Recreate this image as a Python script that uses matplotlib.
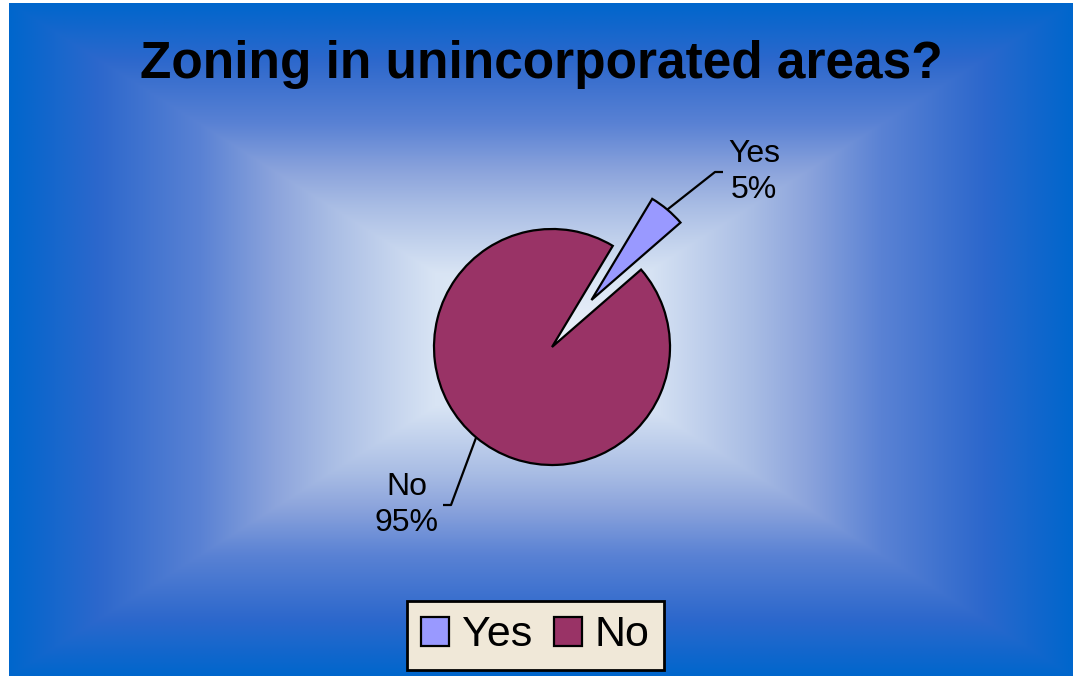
import numpy as np
import matplotlib
matplotlib.use("Agg")
import matplotlib.pyplot as plt

# ---- data ----
categories = ["Yes", "No"]
values = [5, 95]
colors = ["#9999ff", "#993366"]
title = "Zoning in unincorporated areas?"

W, H = 1073, 676
fig = plt.figure(figsize=(W / 100, H / 100), dpi=100, facecolor="white")
ax = fig.add_axes([0, 0, 1, 1])
ax.set_xlim(0, W)
ax.set_ylim(0, H)
ax.axis("off")

# ---- rectangular "from center" gradient background ----
bx0, bx1, by0, by1 = 9, W, 0, H - 3
cx, cy = (bx0 + bx1) / 2, (by0 + by1) / 2
nx, ny = 1000, 640
xs = np.linspace(bx0, bx1, nx)
ys = np.linspace(by1, by0, ny)
X, Y = np.meshgrid(xs, ys)
t = np.maximum(np.abs(X - cx) / ((bx1 - bx0) / 2), np.abs(Y - cy) / ((by1 - by0) / 2))
t = np.clip(t, 0, 1)
stops = np.array([0.0, 0.2, 0.4, 0.5, 0.64, 0.83, 1.0])
scol = np.array([(236, 241, 250), (216, 228, 244), (168, 188, 228), (140, 164, 220),
                 (90, 130, 212), (45, 104, 204), (0, 102, 204)]) / 255
img = np.stack([np.interp(t, stops, scol[:, k]) for k in range(3)], axis=-1)
ax.imshow(img, extent=(bx0, bx1, by0, by1), origin="upper", aspect="auto",
          zorder=0, interpolation="bilinear")

# ---- pie ----
pc = (552, H - 347)
R = 118
explode = [0.52, 0]
start = 59
wedges, _ = ax.pie(values, colors=colors, explode=[e * R for e in explode],
                   startangle=start, counterclock=False, center=pc, radius=R,
                   wedgeprops=dict(edgecolor="black", linewidth=1.6),
                   frame=True)
for w in wedges:
    w.set_zorder(3)
ax.set_xlim(0, W)
ax.set_ylim(0, H)
ax.set_aspect("auto")
ax.axis("off")

# ---- data labels with leader lines ----
label_off = [(202, 175), (-145, -158)]
line_gap = [31, 36]
fs_lab = 23
for i, w in enumerate(wedges):
    ang = np.deg2rad((w.theta1 + w.theta2) / 2)
    r0 = R + explode[i] * R
    sx, sy = pc[0] + r0 * np.cos(ang), pc[1] + r0 * np.sin(ang)
    lx, ly = pc[0] + label_off[i][0], pc[1] + label_off[i][1]
    s = -1 if label_off[i][0] > 0 else 1
    end_x = lx + s * line_gap[i]
    bend_x = end_x + s * 8
    ax.plot([sx, bend_x, end_x], [sy, ly, ly], color="black",
            lw=1.6, zorder=4, solid_capstyle="butt")
    ax.text(lx, ly, f"{categories[i]}\n{values[i]}%", ha="center", va="center",
            fontsize=fs_lab, family="Liberation Sans", linespacing=1.25, zorder=5)

# ---- title ----
ax.text(541, H - 78, title, ha="center", va="baseline", fontsize=37,
        fontweight="bold", family="Liberation Sans", zorder=5)

# ---- legend ----
leg = ax.legend(wedges, categories, ncol=2, loc="center",
                bbox_to_anchor=(535.5, H - 635.5), bbox_transform=ax.transData,
                prop=dict(family="Liberation Sans", size=31),
                handlelength=0.65, handleheight=0.65, handletextpad=0.3,
                columnspacing=0.5, borderpad=0.33, borderaxespad=0,
                fancybox=False, framealpha=1, edgecolor="black",
                facecolor="#f0e8d8")
leg.get_frame().set_linewidth(2)
leg.set_zorder(6)

fig.savefig("out.png", dpi=100, facecolor="white")
